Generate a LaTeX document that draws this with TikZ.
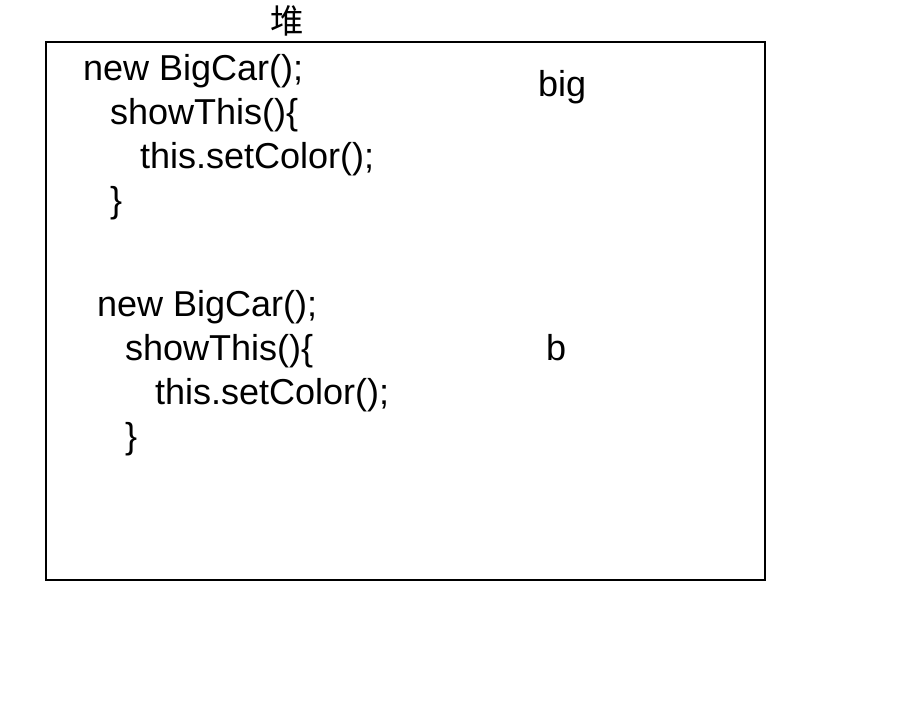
\documentclass[tikz,border=0pt]{standalone}
\usepackage{fontspec}
\setmainfont{Liberation Sans}
\newfontfamily\cjk{Noto Sans CJK SC}
\usetikzlibrary{positioning}

\begin{document}
\begin{tikzpicture}[semithick]
  \tikzstyle{code}=[anchor=base west,inner sep=0pt,font=\fontsize{10.25pt}{12pt}\selectfont]
  \useasboundingbox (0,0) rectangle (9,7);

  \node[anchor=base,inner sep=0pt,font=\cjk\fontsize{9.5pt}{12pt}\selectfont] (title) at (2.87,6.67) {堆};
  \draw[line width=0.5pt] (0.46,6.58) rectangle (7.65,1.20);

  % first object
  \node[code] (new1)  at (0.82,6.20) {new BigCar();};
  \node[code] (show1) at (1.09,5.76) {showThis()\{};
  \node[code] (set1)  at (1.39,5.32) {this.setColor();};
  \node[code] (end1)  at (1.09,4.88) {\}};
  \node[code] (big)   at (5.37,6.04) {big};

  % second object
  \node[code] (new2)  at (0.96,3.84) {new BigCar();};
  \node[code] (show2) at (1.24,3.40) {showThis()\{};
  \node[code] (set2)  at (1.54,2.96) {this.setColor();};
  \node[code] (end2)  at (1.24,2.52) {\}};
  \node[code] (b)     at (5.45,3.40) {b};
\end{tikzpicture}
\end{document}
